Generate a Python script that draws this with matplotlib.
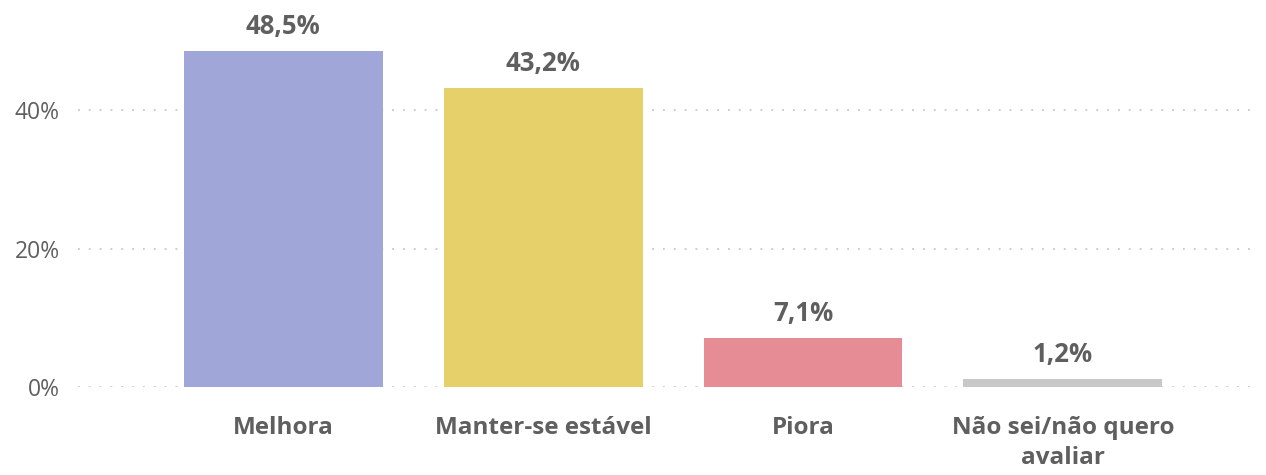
import matplotlib.pyplot as plt
from matplotlib.ticker import FuncFormatter

plt.rcParams["font.family"] = ["Open Sans", "DejaVu Sans"]

# Data
categories = ["Melhora", "Manter-se estável", "Piora", "Não sei/não quero\navaliar"]
values = [48.5, 43.2, 7.1, 1.2]
value_labels = ["48,5%", "43,2%", "7,1%", "1,2%"]
colors = ["#A0A6D8", "#E6D06A", "#E68C94", "#C8C8C8"]
yticks = [0, 20, 40]

text_color = "#5F5F5F"

fig = plt.figure(figsize=(12.66, 4.75), dpi=100)
ax = fig.add_axes([0.0616, 0.1853, 0.9257, 0.8147])

x = range(len(categories))
ax.bar(x, values, width=0.765, color=colors, zorder=2)

for i, (v, lab) in enumerate(zip(values, value_labels)):
    ax.annotate(lab, (i, v), xytext=(0, 8), textcoords="offset points",
                ha="center", va="bottom", fontsize=18.5, fontweight="bold",
                color=text_color)

ax.set_xlim(-0.79, 3.72)
ax.set_ylim(0, 55.9)
ax.set_yticks(yticks)
ax.yaxis.set_major_formatter(FuncFormatter(lambda v, p: f"{v:.0f}%"))
ax.set_xticks(list(x))
ax.set_xticklabels(categories, fontsize=17.5, fontweight="bold", color=text_color,
                   linespacing=1.35)
ax.tick_params(axis="x", length=0, pad=21)
ax.tick_params(axis="y", length=0, pad=13, labelsize=16.5, labelcolor=text_color)

ax.grid(axis="y", color="#C8C8C8", linestyle=(0, (1, 5)), linewidth=1.3, zorder=1)
for s in ax.spines.values():
    s.set_visible(False)

fig.savefig("out.png", dpi=100)
plt.close(fig)
